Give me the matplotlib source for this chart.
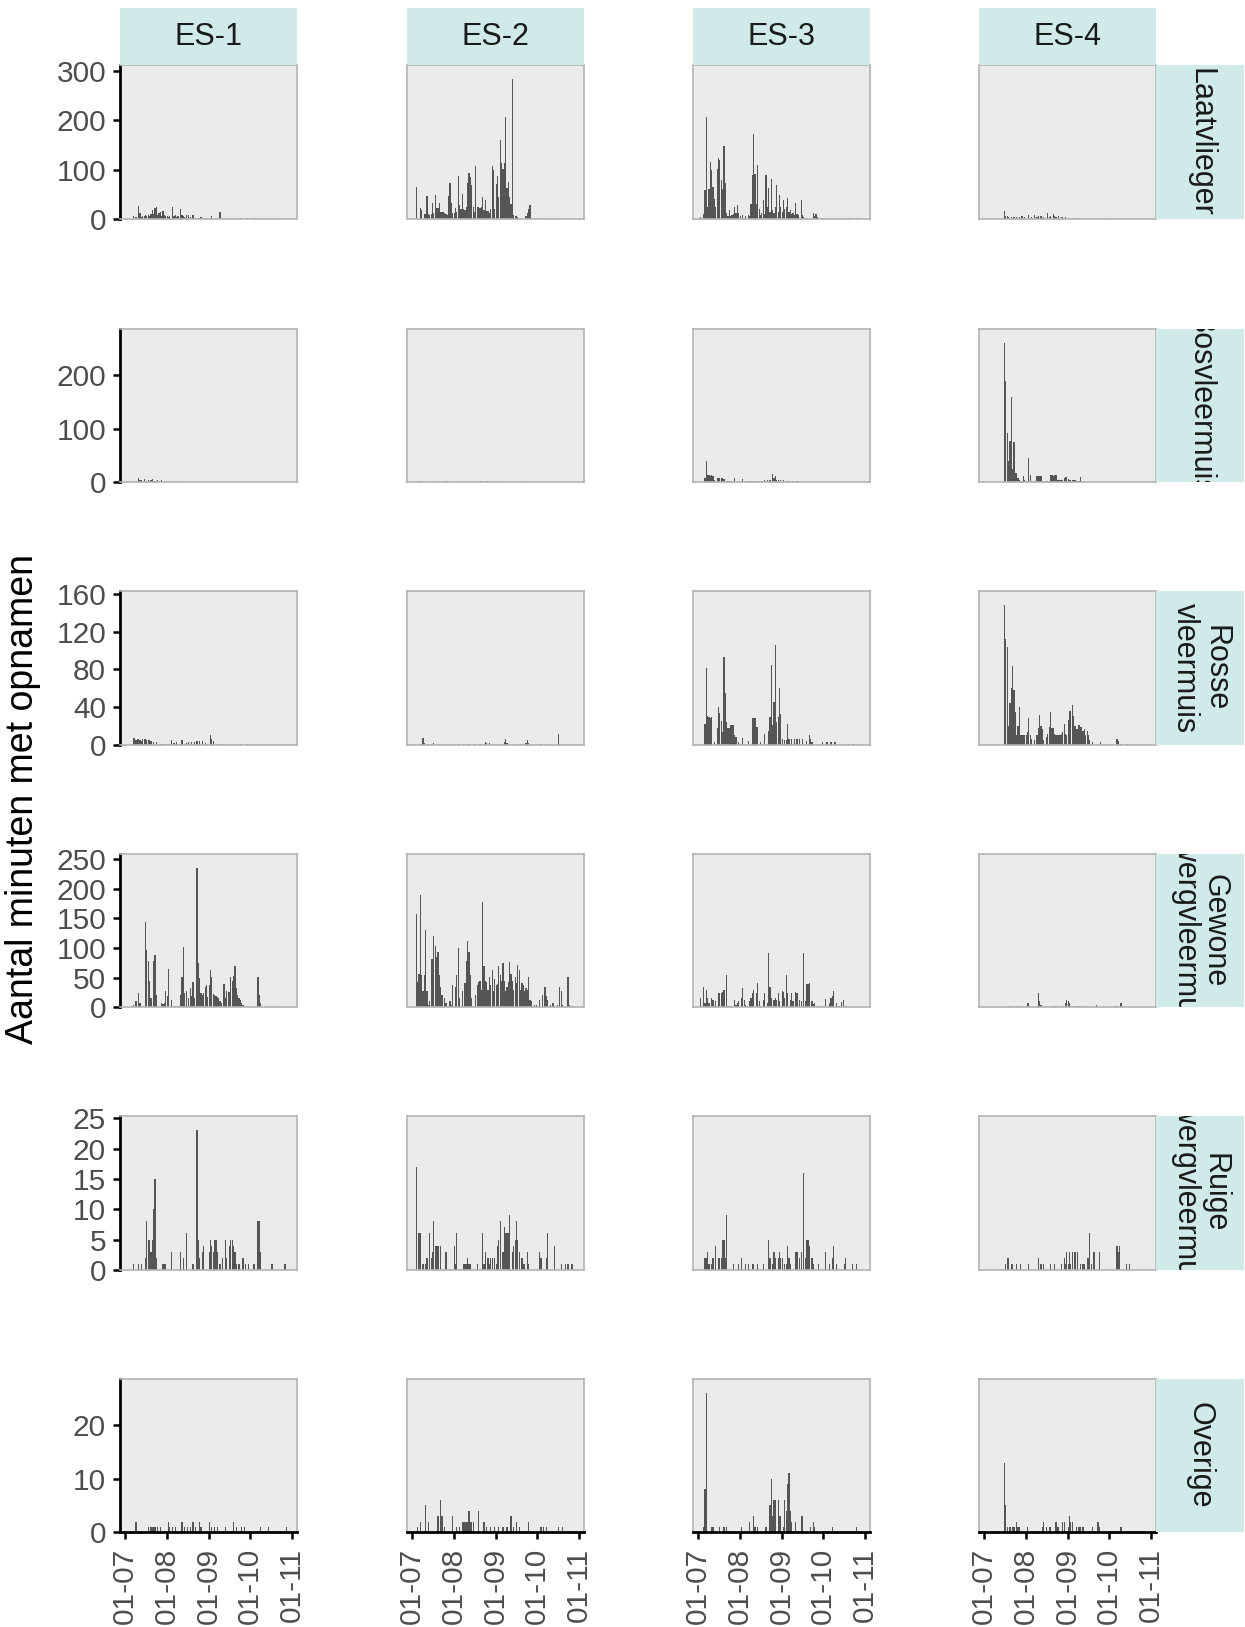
import numpy as np
import matplotlib.pyplot as plt
import matplotlib.dates as mdates

plt.rcParams['font.family'] = ['Liberation Sans', 'DejaVu Sans']

# facets
stations = ['ES-1', 'ES-2', 'ES-3', 'ES-4']
species = ['Laatvlieger', 'Bosvleermuis', 'Rosse\nvleermuis',
           'Gewone\ndwergvleermuis', 'Ruige\ndwergvleermuis', 'Overige']
season_start = np.datetime64('2020-07-01')
season_end = np.datetime64('2020-11-01')

# y ticks per row (free y scale per species)
row_yticks = [
    [0, 100, 200, 300],
    [0, 100, 200],
    [0, 40, 80, 120, 160],
    [0, 50, 100, 150, 200, 250],
    [0, 5, 10, 15, 20, 25],
    [0, 10, 20],
]

# data: (days after 1 July, minutes with recordings)
# Laatvlieger
laat_es1 = [(6, 5), (8, 3), (10, 26), (11, 12), (12, 4), (13, 6), (14, 5), (15, 8), (16, 5), (17, 7), (18, 5),
            (19, 9), (20, 18), (21, 10), (22, 22), (23, 24), (24, 8), (25, 12), (26, 15), (27, 6), (28, 16),
            (29, 8), (30, 5), (31, 5), (32, 4), (33, 6), (35, 24), (36, 6), (37, 8), (38, 4), (39, 5), (41, 20),
            (42, 8), (43, 6), (44, 4), (45, 7), (47, 7), (48, 4), (50, 8), (52, 2), (54, 2), (56, 3), (58, 2),
            (60, 2), (64, 5), (70, 13), (72, 2), (75, 2), (80, 1), (85, 1), (90, 1), (95, 1), (100, 1), (105, 1),
            (110, 1)]
laat_es2 = [(3, 65), (6, 22), (7, 18), (9, 10), (10, 10), (11, 46), (12, 10), (13, 8), (14, 10), (15, 32),
            (16, 12), (17, 48), (18, 22), (19, 22), (20, 33), (21, 15), (22, 15), (23, 15), (24, 12), (25, 10),
            (26, 8), (27, 46), (28, 72), (29, 32), (30, 12), (31, 11), (32, 22), (33, 15), (34, 86), (35, 28),
            (36, 20), (37, 50), (38, 20), (39, 18), (40, 25), (41, 72), (42, 94), (43, 84), (44, 69), (45, 25),
            (46, 15), (47, 108), (48, 25), (49, 25), (50, 22), (51, 25), (52, 45), (53, 18), (54, 38), (55, 17),
            (56, 17), (57, 12), (58, 20), (59, 107), (60, 99), (61, 20), (62, 71), (63, 86), (64, 45), (65, 160),
            (66, 113), (67, 102), (68, 113), (69, 207), (70, 62), (71, 75), (72, 45), (73, 30), (74, 283),
            (75, 8), (76, 5), (77, 6), (78, 3), (80, 2), (84, 5), (85, 12), (86, 20), (87, 28), (88, 2), (95, 1),
            (100, 1), (108, 1)]
laat_es3 = [(2, 3), (4, 10), (5, 59), (6, 207), (7, 25), (8, 60), (9, 116), (10, 99), (11, 65), (12, 40),
            (13, 25), (14, 102), (15, 123), (16, 119), (17, 79), (18, 60), (19, 148), (20, 72), (21, 11), (22, 5),
            (23, 18), (24, 5), (25, 8), (26, 10), (27, 25), (28, 12), (29, 28), (30, 11), (31, 6), (33, 8),
            (35, 6), (37, 7), (38, 5), (39, 30), (40, 89), (41, 172), (42, 92), (43, 30), (44, 109), (45, 20),
            (46, 8), (47, 11), (48, 38), (49, 10), (50, 89), (51, 25), (52, 63), (53, 15), (54, 80), (55, 18),
            (56, 12), (57, 25), (58, 69), (59, 15), (60, 49), (61, 25), (62, 15), (63, 38), (64, 20), (65, 25),
            (66, 42), (67, 15), (68, 18), (69, 10), (70, 11), (71, 8), (72, 32), (73, 10), (74, 8), (76, 38),
            (77, 8), (78, 3), (80, 2), (85, 11), (86, 6), (87, 10), (88, 3), (92, 2), (97, 2), (102, 1), (107, 2),
            (112, 1), (118, 2)]
laat_es4 = [(14, 2), (15, 17), (16, 5), (17, 5), (18, 3), (20, 4), (22, 3), (24, 4), (26, 3), (28, 5), (30, 4),
            (33, 7), (35, 4), (37, 8), (39, 4), (40, 5), (42, 5), (44, 3), (47, 11), (48, 4), (49, 5), (51, 9),
            (52, 5), (53, 4), (55, 5), (57, 4), (58, 3), (60, 3), (62, 2), (65, 2), (68, 2), (70, 1), (90, 1)]

# Bosvleermuis
bos_es1 = [(8, 3), (10, 8), (11, 5), (12, 4), (14, 6), (15, 3), (17, 5), (19, 4), (20, 6), (22, 3), (24, 4),
           (27, 5), (29, 3), (33, 2), (38, 2), (45, 1), (55, 1)]
bos_es2 = [(5, 2), (10, 1), (15, 2), (20, 1), (25, 2), (30, 1), (35, 2), (40, 3), (45, 1), (50, 2), (55, 3),
           (58, 2), (62, 1), (66, 2), (70, 1), (75, 1), (80, 2), (85, 1), (95, 1)]
bos_es3 = [(5, 8), (6, 39), (7, 13), (8, 13), (9, 12), (10, 13), (11, 12), (12, 4), (14, 9), (15, 9), (16, 8),
           (17, 9), (18, 9), (19, 6), (21, 2), (22, 2), (23, 2), (25, 2), (27, 8), (29, 3), (31, 2), (33, 7),
           (35, 3), (37, 3), (39, 3), (41, 3), (43, 3), (45, 3), (47, 3), (49, 4), (51, 4), (53, 4), (55, 15),
           (56, 9), (57, 11), (58, 4), (59, 4), (61, 4), (63, 4), (65, 2), (67, 2), (70, 2), (73, 2), (76, 1),
           (80, 1), (85, 1), (90, 1), (95, 1), (100, 1), (105, 1), (110, 1)]
bos_es4 = [(15, 259), (16, 188), (17, 91), (18, 39), (19, 77), (20, 158), (21, 25), (22, 75), (23, 17), (24, 17),
           (25, 8), (26, 5), (28, 3), (29, 11), (30, 4), (31, 2), (33, 45), (34, 14), (35, 3), (37, 2), (39, 12),
           (40, 12), (41, 12), (42, 12), (43, 2), (45, 2), (47, 2), (49, 13), (50, 13), (51, 12), (52, 13),
           (53, 13), (54, 5), (55, 5), (56, 5), (57, 5), (58, 5), (59, 8), (60, 10), (61, 10), (62, 6), (63, 5),
           (64, 5), (65, 5), (66, 4), (67, 5), (68, 3), (69, 2), (70, 3), (71, 10), (72, 2), (75, 1), (80, 1),
           (85, 1), (90, 1), (95, 1), (100, 1), (105, 1), (110, 1)]

# Rosse vleermuis
rosse_es1 = [(6, 7), (7, 7), (8, 5), (9, 6), (10, 6), (11, 5), (12, 4), (13, 6), (14, 6), (15, 6), (16, 5),
             (17, 5), (18, 5), (19, 4), (21, 3), (23, 3), (26, 1), (28, 1), (30, 1), (32, 1), (34, 5), (36, 2),
             (38, 3), (41, 1), (42, 5), (45, 2), (47, 3), (49, 3), (51, 3), (53, 4), (55, 4), (57, 4), (59, 2),
             (61, 1), (63, 11), (64, 6), (65, 4), (68, 1), (72, 1), (76, 1), (80, 1), (85, 1), (90, 1)]
rosse_es2 = [(7, 1), (8, 7), (9, 2), (12, 1), (14, 1), (16, 2), (20, 1), (23, 1), (30, 1), (34, 1), (38, 1),
             (42, 1), (46, 1), (50, 1), (54, 3), (55, 2), (57, 2), (60, 1), (66, 1), (68, 3), (69, 6), (70, 2),
             (75, 1), (80, 1), (84, 2), (85, 5), (86, 2), (95, 1), (100, 1), (108, 12), (109, 1)]
rosse_es3 = [(5, 22), (6, 82), (7, 31), (8, 30), (9, 29), (10, 30), (12, 3), (14, 18), (15, 40), (16, 34),
             (17, 25), (18, 14), (19, 93), (20, 55), (21, 24), (22, 18), (23, 18), (24, 21), (25, 21), (26, 21),
             (27, 10), (28, 8), (30, 3), (33, 7), (37, 4), (40, 28), (41, 28), (42, 28), (43, 19), (44, 19),
             (46, 3), (49, 12), (52, 15), (53, 30), (54, 85), (55, 21), (56, 45), (57, 106), (58, 24), (59, 30),
             (60, 60), (61, 33), (62, 6), (64, 5), (65, 5), (66, 22), (67, 6), (69, 6), (71, 6), (73, 6), (75, 6),
             (77, 6), (80, 4), (82, 10), (83, 6), (84, 3), (92, 3), (95, 3), (98, 3), (101, 3), (111, 1), (115, 1),
             (119, 1)]
rosse_es4 = [(15, 148), (16, 112), (17, 104), (18, 20), (19, 44), (20, 60), (21, 84), (22, 58), (23, 35), (24, 10),
             (25, 20), (26, 40), (27, 10), (28, 10), (29, 10), (30, 10), (31, 10), (32, 14), (33, 29), (34, 10),
             (35, 6), (37, 5), (39, 10), (40, 18), (41, 32), (42, 20), (43, 17), (44, 5), (46, 8), (47, 12),
             (48, 19), (49, 35), (50, 18), (51, 18), (52, 12), (53, 10), (54, 10), (55, 10), (56, 10), (57, 12),
             (58, 14), (59, 22), (60, 12), (61, 10), (62, 26), (63, 36), (64, 36), (65, 42), (66, 31), (67, 20),
             (68, 17), (69, 17), (70, 21), (71, 19), (72, 19), (73, 15), (74, 17), (75, 10), (76, 15), (77, 10),
             (78, 5), (80, 3), (86, 3), (98, 6), (99, 4), (101, 1), (105, 1), (110, 1)]

# Gewone dwergvleermuis
gewone_es1 = [(6, 4), (8, 10), (10, 24), (11, 7), (15, 143), (16, 97), (17, 78), (18, 44), (19, 16), (21, 78),
              (22, 88), (23, 21), (27, 7), (28, 5), (29, 7), (30, 27), (31, 20), (32, 65), (34, 13), (37, 3),
              (39, 3), (41, 21), (42, 52), (43, 102), (44, 24), (45, 27), (47, 15), (48, 33), (49, 20), (50, 42),
              (51, 15), (53, 235), (54, 75), (55, 50), (56, 24), (57, 21), (58, 25), (59, 34), (60, 38), (61, 17),
              (62, 38), (63, 63), (64, 52), (65, 23), (66, 21), (67, 20), (68, 17), (69, 16), (70, 10), (71, 7),
              (73, 39), (74, 15), (75, 28), (76, 26), (77, 26), (78, 52), (79, 45), (80, 53), (81, 70), (82, 33),
              (83, 21), (84, 16), (85, 13), (86, 7), (87, 4), (89, 2), (98, 51), (99, 21), (100, 7), (106, 3),
              (110, 3), (115, 1), (120, 1)]
gewone_es2 = [(3, 158), (4, 43), (5, 57), (6, 189), (7, 55), (8, 27), (9, 55), (10, 131), (11, 27), (12, 4),
              (13, 10), (14, 82), (15, 82), (16, 120), (17, 103), (18, 85), (19, 94), (20, 55), (21, 35), (22, 21),
              (24, 15), (25, 7), (28, 10), (29, 4), (30, 38), (32, 34), (33, 55), (34, 100), (35, 15), (37, 27),
              (39, 41), (40, 78), (41, 111), (42, 94), (43, 55), (44, 15), (47, 21), (48, 37), (49, 42), (50, 45),
              (51, 30), (52, 178), (53, 69), (54, 44), (55, 42), (56, 30), (57, 52), (58, 38), (59, 63), (60, 27),
              (61, 47), (62, 38), (63, 40), (64, 70), (65, 55), (66, 44), (67, 75), (68, 44), (69, 27), (70, 35),
              (71, 42), (72, 76), (73, 57), (74, 44), (75, 30), (76, 51), (77, 41), (78, 72), (79, 63), (80, 30),
              (81, 41), (82, 38), (83, 27), (84, 33), (85, 30), (86, 52), (87, 13), (88, 10), (90, 4), (92, 4),
              (94, 13), (96, 21), (98, 34), (99, 20), (100, 13), (102, 4), (104, 7), (107, 4), (109, 35),
              (110, 27), (111, 4), (115, 52), (116, 4), (118, 3)]
gewone_es3 = [(2, 16), (4, 34), (5, 7), (6, 30), (7, 16), (8, 7), (10, 16), (11, 13), (12, 3), (13, 10), (15, 24),
              (16, 25), (17, 25), (18, 26), (19, 30), (21, 55), (22, 2), (24, 3), (27, 12), (28, 4), (29, 7),
              (30, 10), (32, 16), (33, 32), (34, 13), (35, 4), (38, 10), (39, 16), (40, 24), (41, 30), (43, 24),
              (44, 41), (45, 10), (46, 3), (48, 13), (49, 24), (51, 7), (52, 92), (53, 34), (54, 16), (56, 13),
              (57, 16), (58, 13), (59, 25), (60, 11), (62, 27), (63, 26), (64, 16), (65, 55), (66, 24), (68, 13),
              (69, 25), (70, 10), (72, 26), (73, 25), (75, 13), (76, 10), (78, 92), (79, 10), (80, 40), (81, 40),
              (82, 41), (84, 10), (85, 5), (86, 7), (88, 3), (91, 2), (94, 14), (97, 7), (98, 16), (99, 19),
              (100, 28), (102, 7), (104, 3), (106, 9), (107, 13), (109, 2)]
gewone_es4 = [(15, 1), (19, 2), (21, 2), (23, 1), (25, 2), (27, 2), (29, 1), (32, 7), (33, 7), (34, 3), (36, 1),
              (40, 24), (41, 10), (42, 4), (45, 2), (47, 2), (49, 1), (51, 2), (53, 2), (55, 1), (58, 2), (60, 7),
              (61, 12), (62, 10), (63, 7), (64, 3), (66, 3), (68, 2), (70, 3), (72, 2), (74, 3), (76, 2), (78, 1),
              (83, 4), (98, 2), (101, 7), (102, 2)]

# Ruige dwergvleermuis
ruige_es1 = [(6, 1), (10, 1), (12, 1), (15, 2), (16, 8), (17, 5), (18, 5), (19, 3), (20, 5), (21, 10), (22, 15),
             (23, 2), (28, 1), (29, 1), (30, 1), (34, 3), (41, 3), (43, 2), (45, 6), (50, 1), (53, 23), (54, 5),
             (55, 2), (57, 3), (58, 4), (62, 3), (63, 5), (64, 4), (65, 3), (66, 5), (67, 5), (68, 3), (70, 1),
             (72, 2), (74, 5), (75, 2), (77, 4), (78, 5), (79, 5), (80, 4), (81, 3), (82, 1), (84, 1), (87, 2),
             (89, 1), (91, 1), (95, 1), (98, 8), (99, 8), (100, 3), (108, 1), (109, 1), (118, 1)]
ruige_es2 = [(3, 17), (5, 6), (6, 6), (8, 1), (10, 1), (11, 2), (13, 6), (14, 2), (15, 3), (16, 8), (17, 4),
             (18, 4), (19, 4), (21, 4), (25, 3), (31, 4), (32, 1), (33, 6), (38, 1), (39, 1), (40, 1), (41, 2),
             (42, 1), (43, 1), (48, 1), (52, 6), (53, 1), (54, 3), (56, 2), (57, 1), (58, 2), (59, 2), (61, 2),
             (62, 1), (63, 4), (64, 5), (65, 8), (67, 3), (68, 7), (69, 6), (70, 6), (71, 6), (72, 9), (74, 3),
             (75, 4), (76, 5), (77, 8), (78, 5), (79, 3), (81, 2), (82, 1), (83, 1), (85, 3), (86, 1), (94, 3),
             (95, 2), (99, 2), (100, 6), (105, 4), (110, 1), (113, 1), (115, 1), (118, 1)]
ruige_es3 = [(5, 2), (6, 2), (7, 3), (8, 1), (10, 1), (11, 2), (13, 4), (15, 2), (16, 2), (17, 2), (18, 5), (19, 5),
             (20, 2), (21, 9), (26, 1), (30, 1), (32, 2), (35, 1), (37, 1), (40, 1), (41, 1), (44, 1), (48, 1),
             (52, 5), (53, 2), (55, 1), (56, 3), (57, 2), (59, 2), (60, 3), (61, 2), (62, 2), (64, 1), (65, 1),
             (66, 4), (67, 2), (68, 1), (72, 3), (73, 3), (75, 2), (76, 3), (78, 16), (79, 2), (80, 5), (81, 5),
             (82, 4), (84, 2), (85, 1), (89, 1), (94, 3), (97, 1), (99, 2), (100, 4), (102, 1), (108, 1), (109, 2),
             (114, 1), (117, 1)]
ruige_es4 = [(16, 1), (17, 2), (18, 2), (20, 1), (21, 1), (24, 1), (27, 1), (33, 1), (40, 2), (42, 1), (44, 1),
             (49, 1), (52, 1), (57, 1), (59, 2), (60, 1), (61, 3), (62, 1), (63, 3), (64, 1), (65, 3), (67, 3),
             (69, 3), (71, 1), (73, 1), (74, 1), (76, 2), (77, 2), (78, 6), (79, 1), (81, 3), (85, 3), (98, 4),
             (99, 3), (100, 4), (105, 1), (107, 1)]

# Overige
overige_es1 = [(8, 2), (17, 1), (19, 1), (20, 1), (21, 1), (22, 1), (24, 1), (26, 1), (32, 2), (33, 1), (35, 1),
               (37, 1), (42, 2), (44, 1), (46, 1), (48, 1), (50, 2), (52, 1), (55, 2), (56, 1), (62, 2), (64, 1),
               (66, 1), (68, 1), (74, 1), (80, 2), (82, 1), (86, 1), (88, 1), (100, 1), (106, 1), (119, 1)]
overige_es2 = [(4, 1), (6, 2), (10, 5), (12, 2), (19, 3), (21, 6), (22, 3), (24, 1), (30, 3), (33, 1), (35, 1),
               (37, 2), (38, 2), (39, 2), (40, 2), (41, 2), (42, 4), (43, 2), (44, 2), (45, 2), (49, 4), (53, 2),
               (55, 1), (58, 1), (61, 1), (64, 1), (67, 1), (70, 1), (73, 3), (75, 1), (77, 2), (79, 1), (86, 2),
               (95, 1), (97, 1), (99, 1), (108, 1), (111, 1)]
overige_es3 = [(4, 1), (5, 8), (6, 26), (10, 1), (11, 1), (16, 1), (19, 1), (21, 1), (32, 1), (38, 2), (41, 3),
               (42, 1), (44, 1), (50, 1), (53, 5), (54, 10), (55, 3), (56, 6), (57, 6), (59, 6), (60, 3), (61, 3),
               (63, 1), (64, 6), (65, 4), (66, 9), (67, 11), (68, 4), (69, 2), (72, 2), (76, 3), (77, 3), (83, 1),
               (85, 2), (86, 1), (99, 1), (117, 1)]
overige_es4 = [(15, 13), (16, 5), (17, 1), (19, 1), (21, 1), (22, 1), (24, 2), (25, 1), (26, 1), (32, 1), (43, 1),
               (44, 2), (46, 1), (48, 1), (49, 1), (53, 2), (54, 1), (55, 1), (58, 2), (59, 2), (62, 1), (63, 3),
               (64, 2), (65, 2), (68, 1), (70, 1), (71, 1), (73, 1), (80, 1), (84, 2), (85, 1), (101, 1)]

grid = [
    [laat_es1, laat_es2, laat_es3, laat_es4],
    [bos_es1, bos_es2, bos_es3, bos_es4],
    [rosse_es1, rosse_es2, rosse_es3, rosse_es4],
    [gewone_es1, gewone_es2, gewone_es3, gewone_es4],
    [ruige_es1, ruige_es2, ruige_es3, ruige_es4],
    [overige_es1, overige_es2, overige_es3, overige_es4],
]

# layout in pixels
W, H = 1245, 1627
col_left = [120, 407, 693, 979]
row_top = [65.4, 328.9, 591.4, 853.9, 1116.4, 1378.8]
pw, ph = 177, 153.5
strip_top = 8.3
strip_right_w = 88

panel_bg = '#EBEBEB'
strip_bg = '#CFEAE8'
border = '#B3B3B3'
bar_col = '#555555'
tick_txt = '#4D4D4D'
fs_tick = 21.5
fs_strip = 22


def px_axes(left, top, w, h):
    return fig.add_axes([left / W, 1 - (top + h) / H, w / W, h / H])


fig = plt.figure(figsize=(W / 100, H / 100), dpi=100)

x0 = mdates.date2num(season_start) - 3.8
x1 = mdates.date2num(season_end) + 3.8

for r, row in enumerate(grid):
    ymax = 1.1 * max(v for panel in row for _, v in panel)
    for c, panel in enumerate(row):
        ax = px_axes(col_left[c], row_top[r], pw, ph)
        ax.set_facecolor(panel_bg)
        days = np.array([d for d, _ in panel])
        vals = np.array([v for _, v in panel])
        ax.bar(season_start + days.astype('timedelta64[D]'), vals, width=0.9,
               color=bar_col, linewidth=0)
        ax.set_xlim(x0, x1)
        ax.set_ylim(0, ymax)
        for s in ax.spines.values():
            s.set_color(border)
            s.set_linewidth(1.2)

        if c == 0:
            ax.set_yticks(row_yticks[r])
            ax.spines['left'].set_color('black')
            ax.spines['left'].set_linewidth(2)
            ax.tick_params(axis='y', length=5, width=1.8, color='black',
                           labelsize=fs_tick, labelcolor=tick_txt, pad=5)
        else:
            ax.set_yticks([])

        if r == len(grid) - 1:
            ax.xaxis.set_major_locator(mdates.MonthLocator())
            ax.xaxis.set_major_formatter(mdates.DateFormatter('%d-%m'))
            ax.spines['bottom'].set_color('black')
            ax.spines['bottom'].set_linewidth(2)
            ax.tick_params(axis='x', length=5, width=1.8, color='black',
                           labelsize=fs_tick, labelcolor=tick_txt, labelrotation=90, pad=6)
        else:
            ax.set_xticks([])

        if r == 0:
            st = px_axes(col_left[c], strip_top, pw, row_top[0] - strip_top)
            st.set_facecolor(strip_bg)
            st.set_xticks([])
            st.set_yticks([])
            for s in st.spines.values():
                s.set_visible(False)
            st.text(0.5, 0.5, stations[c], ha='center', va='center',
                    fontsize=fs_strip, color='#1A1A1A', transform=st.transAxes)

    sr = px_axes(col_left[-1] + pw, row_top[r], strip_right_w, ph)
    sr.set_facecolor(strip_bg)
    sr.set_xticks([])
    sr.set_yticks([])
    for s in sr.spines.values():
        s.set_visible(False)
    sr.text(0.5, 0.5, species[r], ha='center', va='center', rotation=-90,
            fontsize=fs_strip, color='#1A1A1A', linespacing=1.0,
            transform=sr.transAxes, clip_on=True)

fig.text(23 / W, 1 - 799 / H, 'Aantal minuten met opnamen', rotation=90,
         ha='center', va='center', fontsize=27, color='black')

fig.savefig('out.png', dpi=100)
